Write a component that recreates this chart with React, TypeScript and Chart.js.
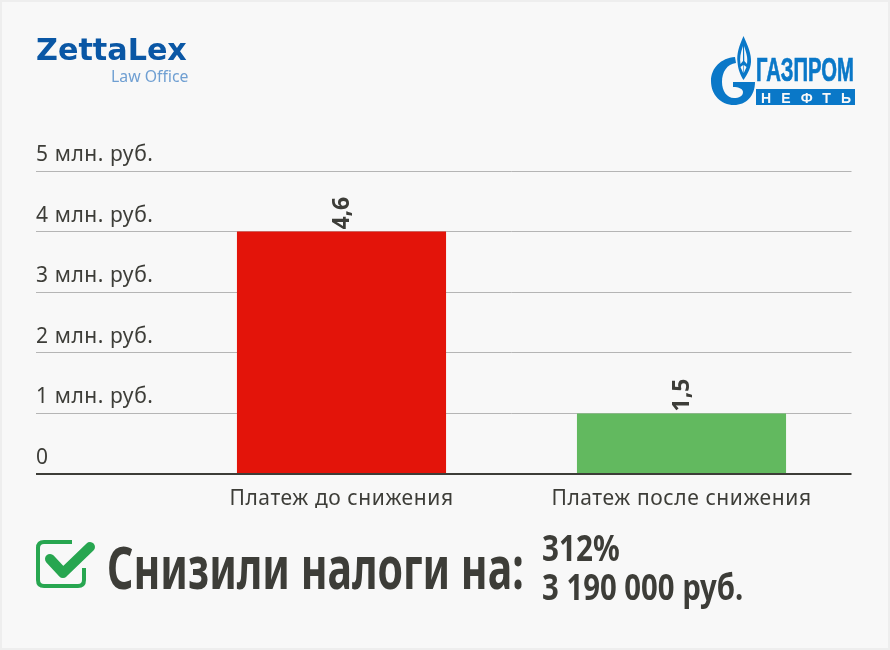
import React, { useEffect, useLayoutEffect, useRef } from "react";
import { Chart, registerables } from "chart.js";

Chart.register(...registerables);

const categories = ["Платеж до снижения", "Платеж после снижения"];
const barHeights = [4, 1];
const barLabels = ["4,6", "1,5"];
const barColors = ["#e3140a", "#62b95f"];
const yTickLabels = ["0", "1 млн. руб.", "2 млн. руб.", "3 млн. руб.", "4 млн. руб.", "5 млн. руб."];

const TEXT = "#3d3d38";
const FONT = "'Noto Sans', 'Open Sans', sans-serif";

const letterSpacingPlugin = {
  id: "letterSpacing",
  beforeDraw(chart: any) {
    chart.ctx.letterSpacing = "0.6px";
  },
};

const barLabelPlugin = {
  id: "barLabel",
  afterDatasetsDraw(chart: any) {
    const { ctx } = chart;
    const meta = chart.getDatasetMeta(0);
    meta.data.forEach((bar: any, i: number) => {
      ctx.save();
      ctx.translate(bar.x + 1, bar.y - 2);
      ctx.rotate(-Math.PI / 2);
      ctx.letterSpacing = "0px";
      ctx.font = `700 23px ${FONT}`;
      ctx.fillStyle = TEXT;
      ctx.textAlign = "left";
      ctx.textBaseline = "middle";
      ctx.fillText(barLabels[i], 0, 0);
      ctx.restore();
    });
  },
};

function FitText({ x, baseline, width, font, size, weight, color, text }: any) {
  const ref = useRef<HTMLDivElement>(null);
  useLayoutEffect(() => {
    const el = ref.current as HTMLDivElement;
    const fit = () => {
      el.style.transform = "none";
      el.style.transform = `scaleX(${width / el.offsetWidth})`;
    };
    fit();
    document.fonts?.ready.then(fit);
  }, [width]);
  return (
    <div
      ref={ref}
      style={{
        position: "absolute",
        left: x,
        top: baseline - size,
        lineHeight: `${size * 1.3}px`,
        whiteSpace: "nowrap",
        transformOrigin: "left top",
        fontFamily: font,
        fontSize: size,
        fontWeight: weight,
        color,
      }}
    >
      {text}
    </div>
  );
}

function GazpromLogo() {
  return (
    <svg style={{ position: "absolute", left: 700, top: 30 }} width={170} height={85} viewBox="700 30 170 85">
      <path
        d="M743.5 36 C739 46 736.5 54 737.5 62 C738 70 741 76 743.5 80 C746 76 750.5 70 751 62 C751.5 54 748 46 743.5 36 Z"
        fill="#0a78c8"
      />
      <path d="M743 46 C740.5 53 739.5 58 740.5 64 L743 61 Z M744 46 C746.5 53 748 58 747 64 L744.3 61 Z" fill="#f8f8f8" />
      <path d="M740.5 67 L743.2 73 L743.2 65 Z M746.5 67 L743.8 73 L743.8 65 Z" fill="#f8f8f8" />
      <path
        d="M735 57 C721 58 711 68 711 81 C711 95 721 105 734 105 C746 105 755 96 755 82 L733 82 L733 87 C739 87 743 89 743 92 C743 96 739 98 734 98 C727 98 722 91 722 82 C722 72 727 64 736 63 Z"
        fill="#0a78c8"
      />
      <text x="756" y="81" fontFamily="'Liberation Sans'" fontWeight="700" fontSize="33" fill="#0a78c8" stroke="#0a78c8" strokeWidth="0.7" textLength="98" lengthAdjust="spacingAndGlyphs">ГАЗПРОМ</text>
      <rect x="756" y="89" width="99" height="16" fill="#0a78c8" />
      <text x="761" y="102.5" fontFamily="'Liberation Sans'" fontWeight="700" fontSize="14" fill="#f8f8f8" textLength="90" lengthAdjust="spacing">НЕФТЬ</text>
    </svg>
  );
}

function CheckIcon() {
  return (
    <svg style={{ position: "absolute", left: 34, top: 536 }} width={64} height={56} viewBox="34 536 64 56">
      <path d="M84 568 L84 580 Q84 586 78 586 L44 586 Q38 586 38 580 L38 548 Q38 542 44 542 L72 542" fill="none" stroke="#27a650" strokeWidth="4" />
      <path d="M50 559 L63 573 L90 547" fill="none" stroke="#27a650" strokeWidth="10" strokeLinecap="round" strokeLinejoin="round" />
    </svg>
  );
}

export default function App() {
  const ref = useRef<HTMLCanvasElement>(null);
  useEffect(() => {
    const chart = new Chart(ref.current as HTMLCanvasElement, {
      type: "bar",
      data: {
        labels: categories,
        datasets: [
          {
            data: barHeights,
            backgroundColor: barColors,
            barPercentage: 0.615,
            categoryPercentage: 1,
          },
        ],
      },
      options: {
        animation: false,
        responsive: false,
        layout: { padding: { left: 36, right: 38.5, top: 171, bottom: 0 } },
        plugins: { legend: { display: false }, tooltip: { enabled: false } },
        scales: {
          x: {
            grid: { display: false, drawTicks: false },
            border: { display: false },
            ticks: {
              color: TEXT,
              font: { family: FONT, size: 21 },
              padding: 12,
              maxRotation: 0,
              autoSkip: false,
            },
            afterFit(scale: any) {
              scale.height = 176;
            },
          },
          y: {
            min: 0,
            max: 5,
            border: { display: false },
            grid: {
              drawTicks: true,
              tickLength: 135.5,
              color: (c: any) => (c.index === 0 ? "#3d3d38" : "#b5b5b5"),
              tickColor: (c: any) => (c.index === 0 ? "#3d3d38" : "#b5b5b5"),
              lineWidth: (c: any) => (c.index === 0 ? 2 : 1),
              tickWidth: (c: any) => (c.index === 0 ? 2 : 1),
            },
            ticks: {
              stepSize: 1,
              color: TEXT,
              crossAlign: "far",
              align: "end",
              padding: 0,
              font: { family: FONT, size: 21, lineHeight: "11px" as any },
              callback: (v: any) => [yTickLabels[v as number], ""],
            },
            afterFit(scale: any) {
              scale.width = 135.5;
            },
          },
        },
      } as any,
      plugins: [letterSpacingPlugin, barLabelPlugin],
    });
    return () => chart.destroy();
  }, []);

  return (
    <div style={{ position: "absolute", left: 0, top: 0, width: 890, height: 650, background: "#f8f8f8", overflow: "hidden", color: TEXT }}>
      <canvas ref={ref} width={890} height={650} style={{ position: "absolute", left: 0, top: 0 }} />
      <div style={{ position: "absolute", inset: 0, border: "2px solid #eeeeee", pointerEvents: "none" }} />
      <FitText x={36} baseline={60} width={151} font="'DejaVu Sans'" size={31} weight={700} color="#0a57a5" text="ZettaLex" />
      <FitText x={111} baseline={82} width={77} font="'Noto Sans'" size={16} weight={400} color="#6f9fd2" text="Law Office" />
      <GazpromLogo />
      <CheckIcon />
      <FitText x={107} baseline={587} width={417} font="'Noto Sans'" size={60} weight={700} color={TEXT} text="Снизили налоги на:" />
      <FitText x={542} baseline={560} width={78} font="'Noto Sans'" size={35} weight={700} color={TEXT} text="312%" />
      <FitText x={542} baseline={599} width={201} font="'Noto Sans'" size={35} weight={700} color={TEXT} text="3 190 000 руб." />
    </div>
  );
}
